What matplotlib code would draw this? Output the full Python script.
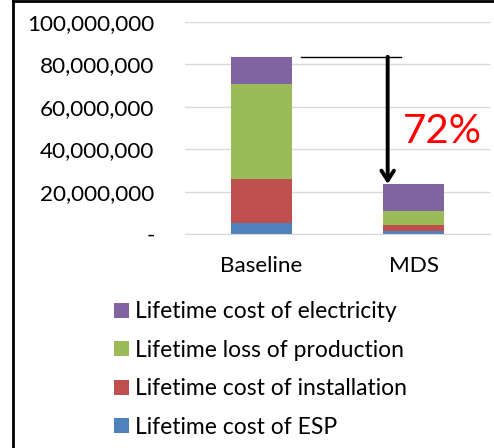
import matplotlib
matplotlib.use("Agg")
import matplotlib.pyplot as plt
from matplotlib.patches import Patch
from matplotlib.ticker import FuncFormatter

plt.rcParams['font.family'] = ['Lato', 'DejaVu Sans']

scenarios = ["Baseline", "MDS"]
cost_esp = [5.0e6, 1.4e6]
cost_install = [20.8e6, 3.0e6]
loss_production = [45.0e6, 6.45e6]
cost_electricity = [12.8e6, 12.75e6]

series = [
    ("Lifetime cost of ESP", cost_esp, "#4F81BD"),
    ("Lifetime cost of installation", cost_install, "#C0504D"),
    ("Lifetime loss of production", loss_production, "#9BBB59"),
    ("Lifetime cost of electricity", cost_electricity, "#8064A2"),
]

W, H = 494, 448
fig = plt.figure(figsize=(W / 100, H / 100), dpi=100)
ax = fig.add_axes([185 / W, (H - 234) / H, 305 / W, 212 / H])

x = list(range(len(scenarios)))
bottom = [0.0] * len(scenarios)
handles = []
for label, vals, color in series:
    ax.bar(x, vals, width=0.4, bottom=bottom, color=color, edgecolor="none", zorder=2)
    bottom = [b + v for b, v in zip(bottom, vals)]
    handles.append(Patch(facecolor=color, label=label))

ax.set_xlim(-0.5, 1.5)
ax.set_ylim(0, 100e6)
ax.set_yticks([0, 20e6, 40e6, 60e6, 80e6, 100e6])
ax.yaxis.set_major_formatter(FuncFormatter(lambda v, p: "-" if v == 0 else f"{v:,.0f}"))
ax.set_xticks(x)
ax.set_xticklabels(scenarios)
ax.tick_params(axis="y", length=0, pad=22, labelsize=16.2)
ax.tick_params(axis="x", length=0, pad=16, labelsize=16.2)
ax.grid(axis="y", color="#D9D9D9", linewidth=1, zorder=0)
for s in ["top", "right", "left"]:
    ax.spines[s].set_visible(False)
ax.spines["bottom"].set_color("#D9D9D9")

# reduction arrow
top_base = bottom[0]
top_mds = bottom[1]
ax.plot([0.259, 0.916], [top_base, top_base], color="black", linewidth=1, zorder=3)
ax.annotate("", xy=(0.829, top_mds), xytext=(0.829, top_base),
            arrowprops=dict(arrowstyle="->,head_length=0.7,head_width=0.45", color="black",
                            lw=2.8, shrinkA=0, shrinkB=0), zorder=3)
pct = round((1 - top_mds / top_base) * 100)
ax.text(0.93, 48.5e6, f"{pct}%", color="red", fontsize=29, va="center", ha="left")

leg = fig.legend(handles=handles[::-1], loc="upper left", bbox_to_anchor=(103 / W, 1 - 290 / H),
                 frameon=False, fontsize=16.5, handlelength=0.62, handleheight=0.62,
                 handletextpad=0.28, labelspacing=0.76, borderpad=0)

# frame edges of the original screenshot
fig.add_artist(plt.Line2D([13 / W, 13 / W], [0, 1], color="black", linewidth=2))
fig.add_artist(plt.Line2D([13 / W, 1], [1 - 1 / H, 1 - 1 / H], color="black", linewidth=2))

fig.savefig("out.png", dpi=100)
